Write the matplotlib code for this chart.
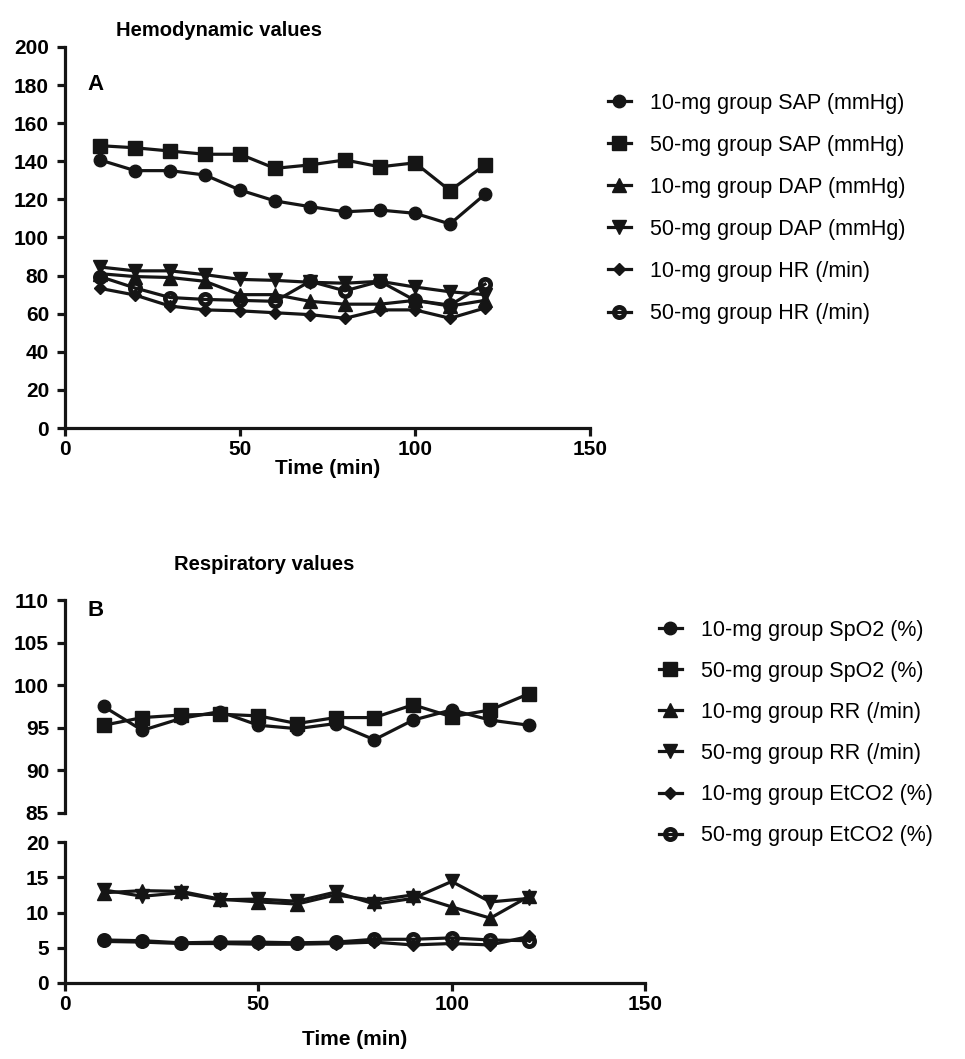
import numpy as np
import matplotlib
matplotlib.use('Agg')
import matplotlib.pyplot as plt
from matplotlib.legend_handler import HandlerLine2D

plt.rcParams['font.family'] = ['Liberation Sans', 'DejaVu Sans']

# Time points (min)
time = [10, 20, 30, 40, 50, 60, 70, 80, 90, 100, 110, 120]

# Panel A - hemodynamic values
sap_10 = [140.7, 135.1, 135.1, 132.8, 124.9, 119.2, 116.2, 113.5, 114.4, 112.7, 107.1, 122.7]
sap_50 = [148.2, 147.1, 145.4, 143.7, 143.7, 136.3, 138.1, 140.7, 137.1, 139.2, 124.6, 138.1]
dap_10 = [81.0, 79.5, 79.0, 77.0, 70.0, 70.0, 66.5, 65.0, 65.0, 67.0, 64.0, 67.0]
dap_50 = [84.5, 82.5, 82.5, 80.5, 78.0, 77.5, 76.5, 76.0, 77.0, 74.0, 71.5, 70.0]
hr_10 = [73.3, 69.8, 64.0, 62.0, 61.5, 60.5, 59.5, 57.6, 62.0, 62.0, 57.6, 63.0]
hr_50 = [79.5, 73.5, 68.5, 67.5, 67.0, 66.5, 77.0, 72.0, 77.0, 67.0, 64.5, 75.5]

# Panel B - respiratory values
spo2_10 = [97.5, 94.7, 96.1, 96.9, 95.3, 94.9, 95.5, 93.6, 95.9, 97.1, 95.9, 95.3]
spo2_50 = [95.3, 96.2, 96.5, 96.6, 96.4, 95.5, 96.2, 96.2, 97.7, 96.3, 97.1, 99.0]
rr_10 = [12.8, 13.1, 13.0, 11.9, 11.5, 11.2, 12.5, 11.7, 12.5, 10.8, 9.2, 12.3]
rr_50 = [13.2, 12.3, 12.8, 11.8, 11.9, 11.6, 12.9, 11.2, 12.0, 14.4, 11.5, 12.0]
etco2_10 = [5.9, 5.8, 5.6, 5.6, 5.5, 5.5, 5.6, 5.8, 5.4, 5.6, 5.4, 6.6]
etco2_50 = [6.1, 6.0, 5.7, 5.8, 5.8, 5.7, 5.8, 6.2, 6.2, 6.4, 6.1, 6.0]

labels_a = ['10-mg group SAP (mmHg)', '50-mg group SAP (mmHg)',
            '10-mg group DAP (mmHg)', '50-mg group DAP (mmHg)',
            '10-mg group HR (/min)', '50-mg group HR (/min)']
labels_b = ['10-mg group SpO2 (%)', '50-mg group SpO2 (%)',
            '10-mg group RR (/min)', '50-mg group RR (/min)',
            '10-mg group EtCO2 (%)', '50-mg group EtCO2 (%)']

K = '#151515'
LW = 2.3
styles = [dict(marker='o', ms=9),
          dict(marker='s', ms=9.5),
          dict(marker='^', ms=9.5),
          dict(marker='v', ms=9.5),
          dict(marker='D', ms=6.5),
          dict(marker='o', ms=7.4, mfc='none', mew=3.4)]


class LeftMarker(HandlerLine2D):
    # marker sits on the left end of the legend line, as in Prism
    def get_xdata(self, legend, xdescent, ydescent, width, height, fontsize):
        xdata = np.array([-xdescent, -xdescent + width], float)
        return xdata, np.array([-xdescent + 0.3 * width])


def style_axis(ax):
    for s in ['top', 'right']:
        ax.spines[s].set_visible(False)
    for s in ['left', 'bottom']:
        ax.spines[s].set_linewidth(LW)
        ax.spines[s].set_color(K)
    ax.tick_params(direction='out', length=5.5, width=LW, color=K, labelsize=15)
    ax.tick_params(axis='y', pad=6)
    ax.tick_params(axis='x', pad=3)
    for t in ax.get_xticklabels() + ax.get_yticklabels():
        t.set_fontweight('bold')


def draw(ax, y, st, label):
    kw = dict(color=K, lw=LW, mec=K, mfc=K, label=label, clip_on=False)
    kw.update(st)
    return ax.plot(time, y, **kw)[0]


W, H = 965, 1059
fig = plt.figure(figsize=(W / 100, H / 100), dpi=100)
leg_kw = dict(loc='upper left', frameon=False, fontsize=15.5, handlelength=1.1,
              handletextpad=0.85, borderaxespad=0,
              handler_map={plt.Line2D: LeftMarker()})

# ---------------- Panel A ----------------
axA = fig.add_axes([65 / W, 1 - 428 / H, 525 / W, 381 / H])
handles_a = []
for y, st, lab in zip([sap_10, sap_50, dap_10, dap_50, hr_10, hr_50], styles, labels_a):
    handles_a.append(draw(axA, y, st, lab))
axA.set_xlim(0, 150)
axA.set_ylim(0, 200)
axA.set_xticks([0, 50, 100, 150])
axA.set_yticks(range(0, 201, 20))
style_axis(axA)
axA.set_xlabel('Time (min)', fontsize=15, fontweight='bold', labelpad=0)
fig.text(96 / W, 1 - 84 / H, 'A', ha='center', va='center', fontsize=16, fontweight='bold')
fig.text(219 / W, 1 - 30 / H, 'Hemodynamic values', ha='center', va='center',
         fontsize=14.5, fontweight='bold')
fig.legend(handles=handles_a, bbox_to_anchor=(599 / W, 1 - 84 / H),
           labelspacing=0.98, **leg_kw)

# ---------------- Panel B (broken y axis) ----------------
axBt = fig.add_axes([65 / W, 1 - 813 / H, 580 / W, 213 / H])
axBb = fig.add_axes([65 / W, 1 - 983 / H, 580 / W, 141 / H])
handles_b = []
for y, st, lab in zip([spo2_10, spo2_50], styles[:2], labels_b[:2]):
    handles_b.append(draw(axBt, y, st, lab))
for y, st, lab in zip([rr_10, rr_50, etco2_10, etco2_50], styles[2:], labels_b[2:]):
    handles_b.append(draw(axBb, y, st, lab))

for ax in (axBt, axBb):
    ax.set_xlim(0, 150)
axBt.set_ylim(85, 110)
axBt.set_yticks(range(85, 111, 5))
axBb.set_ylim(0, 20)
axBb.set_yticks(range(0, 21, 5))
axBb.set_xticks([0, 50, 100, 150])
style_axis(axBt)
style_axis(axBb)
axBt.spines['bottom'].set_visible(False)
axBt.tick_params(axis='x', bottom=False, labelbottom=False)
# small caps across the axis at the break
axBt.set_yticks([85], minor=True)
axBb.set_yticks([20], minor=True)
for ax in (axBt, axBb):
    ax.tick_params(axis='y', which='minor', direction='in', length=4, width=LW, color=K)
axBb.set_xlabel('Time (min)', fontsize=15, fontweight='bold', labelpad=12)
fig.text(96 / W, 1 - 610 / H, 'B', ha='center', va='center', fontsize=16, fontweight='bold')
fig.text(264 / W, 1 - 565 / H, 'Respiratory values', ha='center', va='center',
         fontsize=14.5, fontweight='bold')
fig.legend(handles=handles_b, bbox_to_anchor=(650 / W, 1 - 611 / H),
           labelspacing=0.935, **leg_kw)

fig.savefig('out.png', dpi=100)
